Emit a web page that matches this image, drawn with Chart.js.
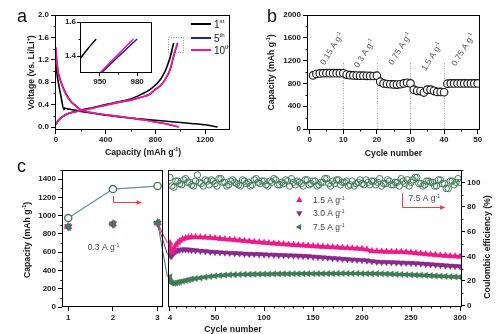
<!DOCTYPE html>
<html><head><meta charset="utf-8"><title>Electrochemical performance</title>
<script src="https://cdn.jsdelivr.net/npm/chart.js@4.4.1/dist/chart.umd.min.js"></script>
<style>
html,body{margin:0;padding:0;background:#fff;}
#wrap{position:relative;width:500px;height:334px;overflow:hidden;background:#fff;}
#wrap canvas{position:absolute;left:0;top:0;}
</style></head><body><div id="wrap">
<canvas id="cA" width="500" height="334"></canvas>
<canvas id="cIn" width="500" height="334"></canvas>
<canvas id="cB" width="500" height="334"></canvas>
<canvas id="cCL" width="500" height="334"></canvas>
<canvas id="cCR" width="500" height="334"></canvas>
</div>
<script>
// ================= DATA =================
// Panel a : charge / discharge profiles (capacity mAh g-1 , voltage V)
const a1DisCap  = [0,8,20,40,64,68,80,130,200,300,400,600,800,1000,1200,1300];
const a1DisV    = [1.12,0.95,0.78,0.55,0.31,0.34,0.33,0.31,0.28,0.245,0.21,0.16,0.12,0.08,0.04,0.0];
const a1ChCap   = [0,20,50,100,200,300,400,500,600,700,750,800,840,870,900,925,940,947];
const a1ChV     = [0.05,0.12,0.18,0.24,0.3,0.35,0.4,0.45,0.5,0.6,0.66,0.75,0.85,0.96,1.12,1.3,1.44,1.5];
const a5DisCap  = [0,5,15,30,50,80,120,160,200,300,400,500,600,700,800,900,985];
const a5DisV    = [1.42,1.22,1.02,0.88,0.75,0.6,0.46,0.38,0.31,0.25,0.22,0.19,0.16,0.13,0.09,0.05,0.0];
const a5ChCap   = [0,20,50,100,200,300,400,500,600,700,750,800,850,890,920,950,980];
const a5ChV     = [0.05,0.12,0.18,0.24,0.29,0.34,0.39,0.44,0.48,0.54,0.58,0.67,0.76,0.89,1.03,1.29,1.5];
const a10DisCap = [0,5,15,30,50,80,120,160,200,300,400,500,600,700,800,900,990];
const a10DisV   = [1.42,1.2,1.0,0.86,0.73,0.58,0.45,0.37,0.31,0.25,0.22,0.19,0.16,0.13,0.09,0.05,0.0];
const a10ChCap  = [0,20,50,100,200,300,400,500,600,700,750,800,850,890,920,950,977];
const a10ChV    = [0.05,0.12,0.18,0.24,0.29,0.34,0.39,0.44,0.48,0.54,0.58,0.68,0.76,0.9,1.05,1.3,1.5];
const aLegend   = [["1","st"],["5","th"],["10","th"]];

// Panel b : rate capability
const bCycles   = [1,2,3,4,5,6,7,8,9,10,11,12,13,14,15,16,17,18,19,20,21,22,23,24,25,26,27,28,29,30,31,32,33,34,35,36,37,38,39,40,41,42,43,44,45,46,47,48,49,50];
const bCapacity = [940,965,975,978,980,980,980,980,980,978, 955,945,940,938,935,935,933,932,930,935,
                   830,800,790,785,782,780,785,800,810,800, 690,670,665,640,690,690,670,650,650,645,
                   795,800,800,800,800,800,800,800,800,800];
const bRates    = ["0.15","0.3","0.75","1.5","0.75"];
const bRateCyc  = [10,20,30,40];

// Panel c : long cycling
const cLeftCycles = [1,2,3];
const cLeftCE     = [71,94.5,97];
const cLeft15     = [880,910,921];
const cLeft30     = [878,908,918];
const cLeft75     = [876,909,922];
const cCycles = [4,5,6,8,10,12,14,17,20,23,26,30,
  35,40,45,50,55,60,65,70,75,80,85,90,95,100,
  105,110,115,120,125,130,135,140,145,150,
  155,160,165,170,175,180,185,190,195,200,
  205,210,215,220,225,230,235,240,245,250,
  255,260,265,270,275,280,285,290,295,300];
const c15 = [700,600,610,640,680,705,725,745,755,762,765,766,
  765,762,758,754,749,744,739,734,729,724,719,714,709,704,
  700,696,692,688,684,680,677,674,671,667,
  664,661,658,655,652,649,646,643,640,637,
  630,612,610,608,606,605,604,603,600,596,
  590,585,580,575,570,566,562,558,555,552];
const c30 = [575,555,565,595,612,620,625,628,628,626,623,619,
  614,609,604,600,597,594,591,588,585,582,580,578,576,574,
  572,570,568,566,564,562,560,557,554,550,
  546,542,538,534,530,526,522,518,515,512,
  508,500,495,492,490,488,486,484,482,480,
  477,474,470,466,462,458,454,450,447,444];
const c75 = [330,275,262,260,264,269,274,282,290,297,304,311,
  319,327,334,340,345,349,352,354,356,357,358,359,360,361,
  361,362,362,363,363,364,364,365,365,365,
  366,366,366,366,367,367,367,367,367,366,
  366,366,365,364,362,360,358,356,354,352,
  350,348,346,343,340,338,335,332,330,328];
const ceCycles = [4,6,8,10,12,14,16,18,20,22, 24,26,28,30,32,34,36,38,40,42,
  44,46,48,50,52,54,56,58,60,62, 64,66,68,70,72,74,76,78,80,82,
  84,86,88,90,92,94,96,98,100,102, 104,106,108,110,112,114,116,118,120,122,
  124,126,128,130,132,134,136,138,140,142, 144,146,148,150,152,154,156,158,160,162,
  164,166,168,170,172,174,176,178,180,182, 184,186,188,190,192,194,196,198,200,202,
  204,206,208,210,212,214,216,218,220,222, 224,226,228,230,232,234,236,238,240,242,
  244,246,248,250,252,254,256,258,260,262, 264,266,268,270,272,274,276,278,280,282,
  284,286,288,290,292,294,296,298,300];
const ceValues = [104,97,96,101,101,99,98,102,103,100, 100,98,97,101,106,100,99,97,102,101,
  98,102,101,99,97,103,103,100,100,97, 98,101,102,100,99,98,97,102,101,99,
  100,97,98,102,103,100,99,101,101,98, 97,101,100,103,102,98,98,100,99,102,
  101,97,103,100,98,101,100,99,97,102, 102,98,99,101,101,97,98,100,100,103,
  103,99,97,101,99,102,102,98,100,100, 101,97,98,101,97,99,100,102,99,98,
  102,100,98,101,101,98,100,103,97,99, 99,102,101,98,98,100,100,97,103,101,
  99,102,97,100,102,104,104,99,99,97, 98,101,101,100,100,97,97,102,102,99,
  99,95,95,101,101,98,100,103,100];
const cSeriesNames = ["1.5","3.0","7.5"];

// Tick labels
const aXTicks = [0,400,800,1200];
const aYTicks = [0,0.4,0.8,1.2,1.6,2.0];
const inXTicks = [950,980];
const inYTicks = [1.4,1.6];
const bXTicks = [0,10,20,30,40,50];
const bYTicks = [0,400,800,1200,1600,2000];
const cLXTicks = [1,2,3];
const cYTicks = [0,200,400,600,800,1000,1200,1400];
const cRXTicks = [4,50,100,150,200,250,300];
const ceTicks = [0,20,40,60,80,100];

// ================= STYLE / HELPERS =================
const FONT = '"Liberation Sans", Arial, Helvetica, sans-serif';
const TICKC = '#1a1a1a';
const COL = {black:'#000000', blue:'#23239a', pink:'#ff1493',
  c15:'#ee1a8a', c30:'#8b2a8c', c75:'#3f7c55', ce:'#3f7c55', ceLine:'#5b8ea6', red:'#e8403a'};
const cBreakX = 3.22; // axis-break position where the left sub-panel hands over

function axis(o) {
  return {
    type:'linear', position:o.pos, min:o.min, max:o.max,
    display: o.display === undefined ? true : o.display,
    afterBuildTicks: s => { s.ticks = (o.majors || []).map(v => ({value:v})); },
    afterFit: s => { if (o.size !== undefined) { if (s.isHorizontal()) s.height = o.size; else s.width = o.size; } },
    grid:{drawOnChartArea:false, drawTicks:true, tickLength:o.tl || 4, tickColor:'#000', tickWidth:1, color:'#000'},
    border:{display:false},
    ticks:{autoSkip:false, maxRotation:0, minRotation:0, padding:o.pad === undefined ? 2 : o.pad, color:TICKC,
      font:{family:FONT, size:o.fs || 8, weight:'bold'}, callback:o.fmt || (v => String(v))},
    title:{display:false}
  };
}
function baseOpts(pad, scales) {
  return {responsive:false, animation:false, events:[], layout:{padding:pad},
    plugins:{legend:{display:false}, tooltip:{enabled:false}}, scales};
}
const pts = (xs, ys) => xs.map((x, i) => ({x, y:ys[i]}));
function curve(xs, ys, color, w) {
  return {data:pts(xs, ys), showLine:true, borderColor:color, borderWidth:w || 1.6, pointRadius:0,
    cubicInterpolationMode:'monotone', fill:false};
}
function rtext(ctx, x, y, segs, o) {
  const size = o.size || 9, weight = o.weight || 'normal', color = o.color || '#222';
  const f = s => weight + ' ' + (s ? (size * 0.62).toFixed(2) : size) + 'px ' + FONT;
  ctx.save();
  ctx.translate(x, y);
  if (o.rot) ctx.rotate(o.rot);
  let w = 0;
  segs.forEach(([t, s]) => { ctx.font = f(s); w += ctx.measureText(t).width; });
  let cx = o.align === 'left' ? 0 : (o.align === 'right' ? -w : -w / 2);
  ctx.fillStyle = color; ctx.textAlign = 'left'; ctx.textBaseline = 'alphabetic';
  const base = size * 0.36;
  segs.forEach(([t, s]) => { ctx.font = f(s); ctx.fillText(t, cx, s ? base - size * 0.42 : base); cx += ctx.measureText(t).width; });
  ctx.restore();
}
function frameAndMinor(chart, minors) {
  const ctx = chart.ctx, a = chart.chartArea;
  ctx.save();
  ctx.strokeStyle = '#000'; ctx.lineWidth = 1;
  const x0 = Math.round(a.left) + 0.5, x1 = Math.round(a.right) - 0.5;
  const y0 = Math.round(a.top) + 0.5, y1 = Math.round(a.bottom) - 0.5;
  ctx.strokeRect(x0, y0, x1 - x0, y1 - y0);
  (minors || []).forEach(m => {
    const sc = chart.scales[m.id];
    m.values.forEach(v => {
      const p = Math.round(sc.getPixelForValue(v)) + 0.5;
      ctx.beginPath();
      if (m.side === 'bottom') { ctx.moveTo(p, y1); ctx.lineTo(p, y1 + m.len); }
      else if (m.side === 'left') { ctx.moveTo(x0, p); ctx.lineTo(x0 - m.len, p); }
      else { ctx.moveTo(x1, p); ctx.lineTo(x1 + m.len, p); }
      ctx.stroke();
    });
  });
  ctx.restore();
}
function tri(ctx, x, y, r, rotDeg, color) {
  ctx.save(); ctx.translate(x, y); ctx.rotate(rotDeg * Math.PI / 180);
  ctx.beginPath(); ctx.moveTo(0, -r); ctx.lineTo(r * 0.866, r * 0.5); ctx.lineTo(-r * 0.866, r * 0.5); ctx.closePath();
  ctx.fillStyle = color; ctx.fill(); ctx.restore();
}
function arrow(ctx, p, color) {
  ctx.save(); ctx.strokeStyle = color; ctx.fillStyle = color; ctx.lineWidth = 1;
  ctx.beginPath(); ctx.moveTo(p[0][0], p[0][1]);
  for (let i = 1; i < p.length; i++) ctx.lineTo(p[i][0], p[i][1]);
  ctx.stroke();
  const [x, y] = p[p.length - 1];
  ctx.beginPath(); ctx.moveTo(x + 1.5, y); ctx.lineTo(x - 4, y - 2.3); ctx.lineTo(x - 4, y + 2.3); ctx.closePath(); ctx.fill();
  ctx.restore();
}
const range = (a, b, s, skip) => { const r = []; for (let v = a; v <= b + 1e-9; v += s) { const vv = +v.toFixed(4); if (!skip || !skip.includes(vv)) r.push(vv); } return r; };
const supA = [["A g", 0], ["-1", 1]];

// ================= PANEL a =================
new Chart(document.getElementById('cA'), {
  type:'scatter',
  data:{datasets:[
    curve(a10DisCap, a10DisV, COL.pink), curve(a10ChCap, a10ChV, COL.pink),
    curve(a5DisCap, a5DisV, COL.blue), curve(a5ChCap, a5ChV, COL.blue),
    curve(a1DisCap, a1DisV, COL.black), curve(a1ChCap, a1ChV, COL.black)
  ]},
  options:baseOpts({left:0, top:15, right:270, bottom:174}, {
    x:axis({pos:'bottom', min:-8, max:1400, majors:aXTicks, size:30, pad:1}),
    y:axis({pos:'left', min:-0.053, max:2.0, majors:aYTicks, size:55, fmt:v => v.toFixed(1)})
  }),
  plugins:[{id:'decoA', afterDraw(chart) {
    const ctx = chart.ctx, sx = chart.scales.x, sy = chart.scales.y;
    frameAndMinor(chart, [{id:'x', side:'bottom', len:2, values:[200,600,1000]},
                          {id:'y', side:'left', len:2, values:[0.2,0.6,1.0,1.4,1.8]}]);
    // dotted zoom box
    ctx.save(); ctx.strokeStyle = '#777'; ctx.lineWidth = 0.8; ctx.setLineDash([1, 1.5]);
    const rx0 = sx.getPixelForValue(902), rx1 = sx.getPixelForValue(1022);
    const ry0 = sy.getPixelForValue(1.6), ry1 = sy.getPixelForValue(1.33);
    ctx.strokeRect(Math.round(rx0) + 0.5, Math.round(ry0) + 0.5, Math.round(rx1 - rx0), Math.round(ry1 - ry0));
    ctx.restore();
    // legend
    const lc = [COL.black, COL.blue, COL.pink], ly = [24, 38, 50];
    aLegend.forEach((l, i) => {
      ctx.save(); ctx.strokeStyle = lc[i]; ctx.lineWidth = 2;
      ctx.beginPath(); ctx.moveTo(191, ly[i]); ctx.lineTo(211, ly[i]); ctx.stroke(); ctx.restore();
      rtext(ctx, 214, ly[i], [[l[0], 0], [l[1], 1]], {size:10, align:'left', color:'#222'});
    });
    // axis titles
    rtext(ctx, 31, 72.5, [["Voltage (vs. Li/Li", 0], ["+", 1], [")", 0]], {size:8.7, weight:'bold', color:TICKC, rot:-Math.PI / 2});
    rtext(ctx, 143, 152, [["Capacity (mAh g", 0], ["-1", 1], [")", 0]], {size:8.7, weight:'bold', color:TICKC});
    rtext(ctx, 17, 15.5, [["a", 0]], {size:18, align:'left', color:'#111'});
  }}]
});

// ================= INSET =================
new Chart(document.getElementById('cIn'), {
  type:'scatter',
  data:{datasets:[
    curve(a10ChCap, a10ChV, COL.pink, 1.5), curve(a5ChCap, a5ChV, COL.blue, 1.5), curve(a1ChCap, a1ChV, COL.black, 1.5)
  ]},
  options:baseOpts({left:60, top:22, right:348, bottom:249}, {
    x:axis({pos:'bottom', min:934, max:992, majors:inXTicks, size:12, tl:3, pad:1}),
    y:axis({pos:'left', min:1.3, max:1.6, majors:inYTicks, size:20, tl:3, pad:1, fmt:v => v.toFixed(1)})
  }),
  plugins:[{id:'decoIn', afterDraw(chart) {
    frameAndMinor(chart, [{id:'x', side:'bottom', len:2, values:[965]}, {id:'y', side:'left', len:2, values:[1.5]}]);
  }}]
});

// ================= PANEL b =================
new Chart(document.getElementById('cB'), {
  type:'scatter',
  data:{datasets:[{data:pts(bCycles, bCapacity), showLine:false, pointStyle:'circle', pointRadius:3.8,
    pointBorderWidth:1.1, pointBorderColor:'#111', pointBackgroundColor:'#fff'}]},
  options:baseOpts({left:255, top:15, right:20, bottom:174}, {
    x:axis({pos:'bottom', min:-0.8, max:50.7, majors:bXTicks, size:30, pad:1}),
    y:axis({pos:'left', min:-17, max:2000, majors:bYTicks, size:52})
  }),
  plugins:[{id:'decoB',
    beforeDatasetsDraw(chart) {
      const ctx = chart.ctx, sx = chart.scales.x, sy = chart.scales.y;
      ctx.save(); ctx.strokeStyle = '#8a8a8a'; ctx.lineWidth = 0.8; ctx.setLineDash([1, 1.5]);
      bRateCyc.forEach(c => {
        const x = Math.round(sx.getPixelForValue(c)) + 0.5;
        ctx.beginPath(); ctx.moveTo(x, sy.getPixelForValue(0)); ctx.lineTo(x, sy.getPixelForValue(1160)); ctx.stroke();
      });
      ctx.restore();
    },
    afterDraw(chart) {
      const ctx = chart.ctx, sx = chart.scales.x, sy = chart.scales.y;
      frameAndMinor(chart, [{id:'x', side:'bottom', len:2, values:[5,15,25,35,45]},
                            {id:'y', side:'left', len:2, values:[200,600,1000,1400,1800]}]);
      const lp = [[6.5,1415],[16.2,1328],[26.8,1415],[36.25,1275],[45.6,1397]];
      bRates.forEach((r, i) => {
        rtext(ctx, sx.getPixelForValue(lp[i][0]), sy.getPixelForValue(lp[i][1]),
          [[r + " A g", 0], ["-1", 1]], {size:8.5, color:'#555', rot:-58 * Math.PI / 180});
      });
      rtext(ctx, 271, 72.5, [["Capacity (mAh g", 0], ["-1", 1], [")", 0]], {size:8.7, weight:'bold', color:TICKC, rot:-Math.PI / 2});
      rtext(ctx, 393.5, 153, [["Cycle number", 0]], {size:8.7, weight:'bold', color:TICKC});
      rtext(ctx, 267, 15.5, [["b", 0]], {size:18, align:'left', color:'#111'});
    }}]
});

// ================= PANEL c (left: cycles 1-3) =================
function bridge(vals, nextVal, color, rot) {
  return {data:pts(cLeftCycles.concat([cBreakX]), vals.concat([nextVal])), showLine:true, clip:false,
    borderWidth:1, borderColor:color,
    segment:{borderColor:c => (c.p0DataIndex === 2 ? color : 'rgba(0,0,0,0)')},
    pointStyle:'triangle', pointRotation:rot, pointRadius:[4.4,4.4,4.4,0],
    pointBackgroundColor:color, pointBorderColor:color, pointBorderWidth:0.5, yAxisID:'y'};
}
new Chart(document.getElementById('cCL'), {
  type:'scatter',
  data:{datasets:[
    bridge(cLeft75, c75[0], COL.c75, 270),
    bridge(cLeft30, c30[0], COL.c30, 180),
    bridge(cLeft15, c15[0], COL.c15, 0),
    {data:pts(cLeftCycles, cLeftCE), yAxisID:'y2', showLine:true, borderColor:COL.ceLine, borderWidth:1.2,
      pointStyle:'circle', pointRadius:3.6, pointBorderWidth:1.3, pointBorderColor:COL.ce, pointBackgroundColor:'#fff'}
  ]},
  options:baseOpts({left:0, top:170, right:337.5, bottom:0}, {
    x:axis({pos:'bottom', min:0.86, max:3.11, majors:cLXTicks, size:27}),
    y:axis({pos:'left', min:0, max:1500, majors:cYTicks, size:62}),
    y2:axis({pos:'right', min:-1.1, max:110, display:false})
  }),
  plugins:[{id:'decoCL', afterDraw(chart) {
    const ctx = chart.ctx, sx = chart.scales.x, sy = chart.scales.y;
    frameAndMinor(chart, [{id:'y', side:'left', len:2, values:[100,300,500,700,900,1100,1300,1500]}]);
    rtext(ctx, 27, 240, [["Capacity (mAh g", 0], ["-1", 1], [")", 0]], {size:8.7, weight:'bold', color:TICKC, rot:-Math.PI / 2});
    rtext(ctx, sx.getPixelForValue(1.79), sy.getPixelForValue(656), [["0.3 ", 0]].concat(supA), {size:8.5, color:'#444'});
    const ax = Math.round(sx.getPixelForValue(2.0)) + 0.5, ay0 = sy.getPixelForValue(1214), ay1 = Math.round(sy.getPixelForValue(1149)) + 0.5;
    arrow(ctx, [[ax, ay0], [ax, ay1], [sx.getPixelForValue(2.62), ay1]], COL.red);
    rtext(ctx, 17, 166, [["c", 0]], {size:18, align:'left', color:'#111'});
  }}]
});

// ================= PANEL c (right: cycles 4-300) =================
function band(vals, color, rot) {
  return {data:pts(cCycles, vals), yAxisID:'y', showLine:true, borderColor:color, borderWidth:3.2,
    pointStyle:'triangle', pointRotation:rot, pointRadius:3.6, pointBackgroundColor:color, pointBorderColor:color, pointBorderWidth:0.5};
}
new Chart(document.getElementById('cCR'), {
  type:'scatter',
  data:{datasets:[
    band(c15, COL.c15, 0), band(c30, COL.c30, 180), band(c75, COL.c75, 270),
    {data:pts(ceCycles, ceValues), yAxisID:'y2', showLine:false, pointStyle:'circle', pointRadius:3.2,
      pointBorderWidth:1, pointBorderColor:COL.ce, pointBackgroundColor:'rgba(255,255,255,0)'}
  ]},
  options:baseOpts({left:168, top:170, right:0, bottom:0}, {
    x:axis({pos:'bottom', min:2, max:302, majors:cRXTicks, size:27}),
    y:axis({pos:'left', min:0, max:1500, display:false}),
    y2:axis({pos:'right', min:-1.1, max:110, majors:ceTicks, size:38, tl:3, pad:2})
  }),
  plugins:[{id:'decoCR', afterDraw(chart) {
    const ctx = chart.ctx, sx = chart.scales.x, s2 = chart.scales.y2;
    frameAndMinor(chart, [{id:'x', side:'bottom', len:2, values:range(10, 290, 10, [50,100,150,200,250])},
                          {id:'y2', side:'right', len:2, values:[10,30,50,70,90,110]}]);
    // legend
    const cols = [COL.c15, COL.c30, COL.c75], rots = [0, 180, 270], lv = [85.6, 75, 63.7];
    cSeriesNames.forEach((n, i) => {
      const y = s2.getPixelForValue(lv[i]);
      tri(ctx, sx.getPixelForValue(136), y, 3.6, rots[i], cols[i]);
      rtext(ctx, sx.getPixelForValue(150), y, [[n + " ", 0]].concat(supA), {size:8.5, align:'left', color:'#444'});
    });
    // arrow + label
    const ax = Math.round(sx.getPixelForValue(240.8)) + 0.5, ay1 = Math.round(s2.getPixelForValue(79.9)) + 0.5;
    arrow(ctx, [[ax, s2.getPixelForValue(91.2)], [ax, ay1], [sx.getPixelForValue(283.7), ay1]], COL.red);
    rtext(ctx, sx.getPixelForValue(247.5), s2.getPixelForValue(87.2), [["7.5 ", 0]].concat(supA), {size:8.5, align:'left', color:'#444'});
    // titles
    rtext(ctx, 487, 247, [["Coulombic efficiency (%)", 0]], {size:8.7, weight:'bold', color:TICKC, rot:-Math.PI / 2});
    rtext(ctx, 233, 329, [["Cycle number", 0]], {size:8.7, weight:'bold', color:TICKC});
  }}]
});
</script></body></html>
